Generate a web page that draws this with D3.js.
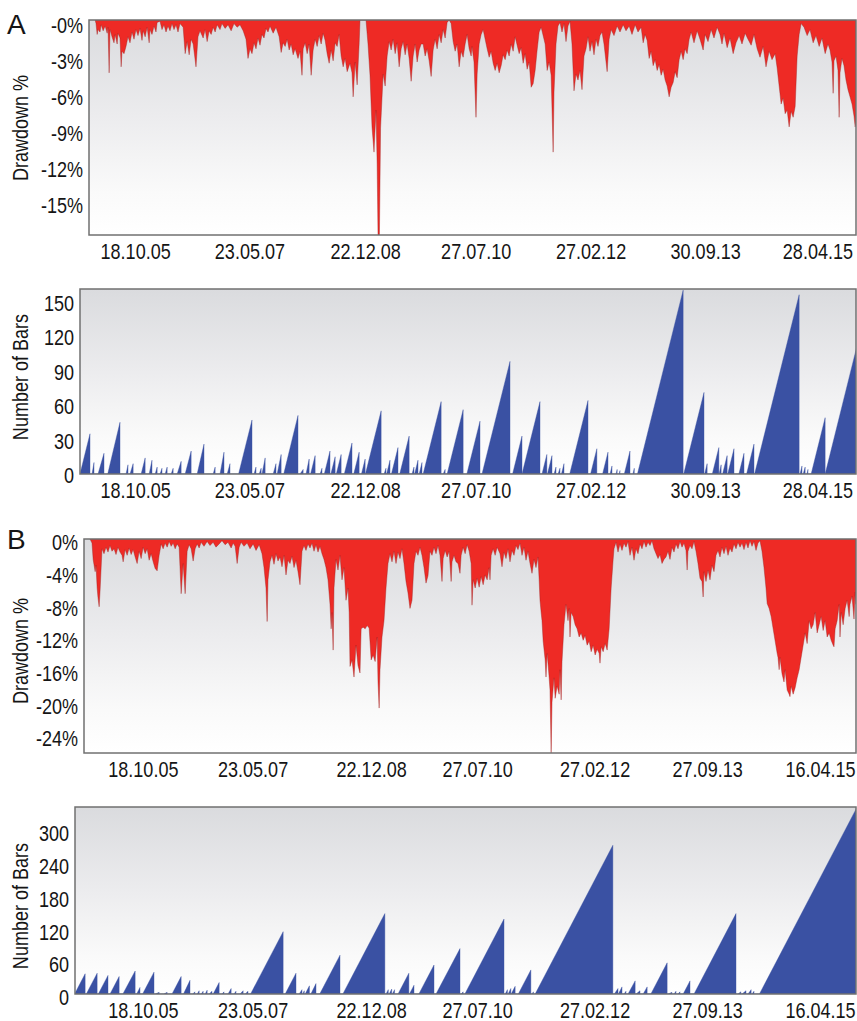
<!DOCTYPE html>
<html>
<head>
<meta charset="utf-8">
<script src="https://cdn.jsdelivr.net/npm/d3@7"></script>
<style>
  body { margin: 0; background: #fff; }
  svg text { font-family: "Liberation Sans", Arial, sans-serif; fill: #151515; }
</style>
</head>
<body>
<svg id="chart" width="857" height="1021"></svg>
<script>
// ---- x axis: bar index of the daily series, labelled with calendar dates ----
const dateTicksA  = [200, 600, 1005, 1392, 1794, 2195, 2588];
const dateLabelsA = ["18.10.05", "23.05.07", "22.12.08", "27.07.10", "27.02.12", "30.09.13", "28.04.15"];
const dateTicksB  = [227, 611, 1026, 1397, 1808, 2202, 2597];
const dateLabelsB = ["18.10.05", "23.05.07", "22.12.08", "27.07.10", "27.02.12", "27.09.13", "16.04.15"];

// ---- y axis ticks ----
const ddTicksA    = [0, -3, -6, -9, -12, -15];
const ddLabelsA   = ["-0%", "-3%", "-6%", "-9%", "-12%", "-15%"];
const nbTicksA    = [0, 30, 60, 90, 120, 150];
const ddTicksB    = [0, -4, -8, -12, -16, -20, -24];
const ddLabelsB   = ["0%", "-4%", "-8%", "-12%", "-16%", "-20%", "-24%"];
const nbTicksB    = [0, 60, 120, 180, 240, 300];

// ---- system A: drawdown % by bar ----
const drawdownA = [
[60,0],[63,-0.3],[67,-1.2],[70,-0.8],[77,-1.0],[81,-0.4],[88,-0.9],[95,-0.5],[102,-1.1],[105,-0.6],[109,-4.4],[112,-0.8],
[119,-1.4],[126,-1.9],[130,-1.2],[137,-2.0],[140,-1.1],[147,-1.5],[151,-3.9],[154,-2.6],[161,-2.8],[168,-2.2],[175,-1.4],
[182,-1.9],[189,-1.0],[196,-1.6],[203,-0.8],[210,-1.3],[217,-0.7],[224,-1.7],[228,-0.9],[235,-1.4],[242,-0.6],[249,-1.9],
[252,-0.8],[259,-1.2],[266,-0.5],[273,-1.0],[277,-0.2],[287,-0.1],[294,-0.8],[301,-0.4],[308,-1.0],[315,-0.5],[322,-0.9],
[329,-0.3],[336,-0.8],[343,-0.4],[350,-1.0],[357,-0.3],[368,-0.6],[375,-2.8],[382,-1.8],[389,-2.9],[396,-1.6],[403,-2.0],
[413,-3.9],[420,-1.4],[427,-0.9],[438,-1.5],[445,-0.8],[452,-1.8],[459,-0.9],[466,-1.2],[473,-0.6],[480,-1.0],[487,-0.4],
[497,-0.8],[504,-0.3],[515,-0.7],[525,-0.4],[536,-0.9],[546,-0.3],[557,-0.6],[567,-0.4],[578,-0.9],[588,-1.6],[595,-3.2],
[602,-2.4],[609,-2.8],[616,-1.9],[623,-2.4],[630,-1.5],[637,-2.1],[644,-1.2],[651,-1.5],[658,-0.7],[665,-1.0],[672,-0.5],
[683,-1.1],[693,-0.6],[704,-1.4],[711,-2.7],[718,-1.9],[725,-2.2],[732,-1.6],[739,-2.5],[746,-2.0],[753,-2.9],[760,-2.4],
[770,-3.2],[777,-2.6],[784,-4.6],[788,-2.4],[795,-1.9],[802,-2.8],[809,-2.0],[816,-4.6],[823,-2.5],[830,-1.6],[837,-2.2],
[844,-1.3],[851,-2.0],[858,-1.1],[865,-1.7],[872,-2.8],[879,-3.6],[886,-2.5],[893,-3.4],[900,-1.9],[907,-2.2],[914,-1.2],
[921,-3.0],[928,-3.9],[935,-3.2],[942,-4.3],[952,-3.6],[959,-4.4],[963,-6.4],[970,-3.5],[977,-5.4],[984,-2.0],[987,0],
[1008,0],[1015,-2.0],[1022,-4.6],[1029,-8.9],[1036,-11.0],[1043,-7.5],[1047,-12.0],[1050,-17.9],[1055,-17.9],[1059,-9.0],
[1068,-4.5],[1075,-5.5],[1082,-3.0],[1089,-1.8],[1096,-2.5],[1103,-1.6],[1110,-2.8],[1117,-1.9],[1124,-3.9],[1131,-2.4],
[1138,-1.8],[1145,-2.9],[1152,-2.0],[1159,-3.2],[1166,-5.1],[1173,-3.0],[1180,-2.0],[1187,-3.5],[1194,-2.5],[1201,-2.0],
[1208,-2.0],[1215,-3.0],[1222,-2.4],[1229,-3.4],[1236,-4.7],[1243,-2.5],[1250,-1.6],[1257,-2.4],[1264,-1.2],[1271,-1.9],
[1278,-0.8],[1285,-1.5],[1292,-0.2],[1299,0],[1306,-0.3],[1313,-1.8],[1320,-2.6],[1327,-2.0],[1334,-3.9],[1341,-2.6],
[1348,-3.1],[1355,-2.0],[1362,-1.2],[1369,-2.4],[1376,-3.0],[1379,-2.2],[1386,-3.5],[1393,-8.1],[1397,-4.5],[1404,-2.0],
[1411,-1.2],[1418,-0.8],[1425,-1.6],[1432,-2.4],[1439,-3.1],[1446,-2.6],[1453,-3.6],[1460,-4.2],[1467,-3.6],[1474,-4.4],
[1481,-3.8],[1488,-2.9],[1495,-3.3],[1502,-2.5],[1509,-3.0],[1516,-2.0],[1523,-2.6],[1530,-1.4],[1537,-2.1],[1544,-2.8],
[1551,-2.3],[1558,-3.6],[1565,-2.8],[1572,-4.1],[1579,-3.5],[1586,-5.6],[1593,-5.3],[1600,-4.2],[1607,-2.5],[1614,-1.0],
[1621,-0.6],[1635,-2.0],[1642,-4.2],[1649,-3.5],[1656,-4.6],[1663,-11.0],[1666,-6.0],[1673,-2.0],[1680,-0.5],[1687,-0.2],
[1694,-1.0],[1701,-0.3],[1708,-1.8],[1715,-0.5],[1722,-0.1],[1729,-2.0],[1736,-5.9],[1743,-4.5],[1750,-5.0],[1757,-4.2],
[1764,-5.8],[1771,-3.0],[1778,-2.4],[1785,-1.4],[1792,-2.6],[1799,-1.8],[1806,-2.9],[1813,-1.6],[1820,-2.2],[1827,-1.3],
[1834,-1.0],[1841,-2.0],[1852,-4.3],[1859,-1.6],[1866,-0.8],[1876,-1.3],[1887,-0.5],[1897,-1.0],[1908,-0.4],[1918,-0.9],
[1929,-0.5],[1939,-1.2],[1950,-0.4],[1960,-1.0],[1971,-0.6],[1978,-1.9],[1985,-1.2],[1992,-1.7],[1999,-3.2],[2006,-2.6],
[2013,-3.8],[2020,-3.3],[2027,-4.2],[2034,-3.7],[2041,-4.6],[2048,-4.1],[2055,-5.0],[2062,-5.5],[2069,-6.4],[2076,-5.6],
[2083,-5.2],[2090,-4.3],[2097,-4.8],[2104,-3.3],[2111,-2.6],[2118,-3.3],[2125,-2.4],[2132,-2.8],[2139,-1.6],[2146,-1.0],
[2156,-1.9],[2167,-0.9],[2177,-1.6],[2188,-2.5],[2195,-1.2],[2205,-1.8],[2216,-0.8],[2226,-1.5],[2237,-0.6],[2247,-1.2],
[2254,-2.0],[2261,-1.1],[2272,-2.3],[2282,-1.5],[2293,-2.8],[2303,-1.9],[2314,-1.3],[2324,-2.0],[2335,-1.1],[2345,-1.6],
[2356,-2.1],[2366,-1.2],[2377,-2.4],[2387,-3.1],[2398,-2.2],[2408,-3.9],[2419,-2.6],[2429,-3.3],[2440,-2.8],[2447,-4.0],
[2454,-5.5],[2461,-7.0],[2468,-6.5],[2475,-7.8],[2482,-7.5],[2489,-8.9],[2496,-7.6],[2503,-8.1],[2510,-7.2],[2517,-3.0],
[2524,-1.2],[2531,-0.3],[2541,-0.6],[2552,-1.3],[2562,-0.8],[2573,-1.9],[2583,-1.3],[2594,-2.2],[2604,-1.5],[2615,-2.8],
[2625,-2.0],[2632,-2.5],[2639,-3.5],[2643,-6.1],[2646,-3.4],[2653,-3.0],[2660,-4.2],[2664,-8.1],[2667,-4.4],[2674,-3.2],
[2681,-3.8],[2688,-5.0],[2695,-5.8],[2702,-6.4],[2709,-7.0],[2716,-8.0],[2720,-8.9],[2723,-8.5]
];

// ---- system A: bars since last equity high, one run per row [startBar, endBar, bars] ----
const barRunsA = [
[7,42,35],[49,56,10],[70,91,18],[104,147,45],[168,175,8],[182,193,9],[221,235,14],[249,259,12],[270,277,6],[287,294,5],
[305,312,6],[326,333,5],[347,361,11],[375,396,20],[417,441,26],[473,480,6],[497,511,19],[522,532,9],[562,609,47],
[616,623,6],[634,641,5],[644,655,14],[683,693,9],[697,711,17],[720,770,51],[777,788,4],[798,809,13],[814,830,16],
[847,854,5],[862,882,20],[885,900,15],[904,921,17],[932,959,27],[965,984,19],[992,1005,13],[1006,1061,55],[1071,1078,5],
[1080,1092,12],[1097,1120,23],[1126,1159,33],[1169,1176,6],[1178,1190,12],[1194,1204,10],[1208,1271,63],[1278,1285,4],
[1292,1348,56],[1361,1407,46],[1414,1512,98],[1521,1554,33],[1554,1617,63],[1624,1641,17],[1643,1659,16],[1666,1673,6],
[1680,1687,5],[1692,1701,9],[1721,1785,64],[1794,1816,22],[1836,1855,19],[1862,1869,7],[1883,1887,4],[1894,1897,3],
[1912,1932,20],[1942,1947,5],[1958,2118,160],[2120,2191,71],[2193,2202,9],[2220,2243,23],[2244,2251,8],[2256,2272,16],
[2274,2296,22],[2313,2331,18],[2340,2366,26],[2368,2524,156],[2527,2534,7],[2538,2545,6],[2551,2555,4],[2566,2615,49],
[2615,2727,112]
];

// ---- system B: drawdown % by bar ----
const drawdownB = [
[42,0],[49,-0.5],[53,-2.5],[60,-4.0],[63,-3.2],[67,-6.0],[70,-7.2],[74,-8.3],[77,-6.5],[81,-3.5],[84,-1.2],[91,-1.8],
[98,-1.0],[105,-1.6],[112,-0.8],[119,-1.5],[126,-1.2],[133,-1.9],[140,-1.0],[147,-1.6],[154,-2.0],[158,-2.8],[165,-1.3],
[172,-2.0],[179,-1.1],[186,-1.9],[193,-1.3],[200,-2.2],[207,-3.0],[214,-1.5],[221,-2.4],[228,-1.0],[235,-1.8],[242,-1.2],
[249,-2.6],[256,-1.8],[263,-2.8],[270,-3.6],[277,-3.9],[284,-2.0],[291,-0.6],[298,-1.2],[305,-0.5],[312,-1.0],[319,-0.3],
[326,-0.9],[333,-0.5],[340,-1.2],[347,-0.6],[354,-1.0],[361,-6.7],[368,-3.0],[375,-6.7],[382,-1.5],[389,-0.7],[396,-1.2],
[403,-2.7],[410,-1.2],[417,-0.6],[424,-1.1],[431,-0.4],[441,-0.9],[452,-0.3],[462,-0.8],[473,-0.4],[483,-1.0],[494,-0.6],
[504,-0.2],[515,-0.7],[525,-0.4],[536,-1.1],[543,-0.5],[550,-0.9],[557,-3.0],[564,-1.0],[571,-0.4],[581,-0.9],[592,-0.5],
[602,-1.2],[613,-0.6],[623,-1.4],[634,-0.7],[644,-1.8],[651,-3.5],[658,-6.0],[662,-10.1],[665,-5.0],[672,-2.8],[679,-2.0],
[686,-3.1],[693,-1.8],[700,-2.7],[707,-2.2],[714,-3.4],[721,-2.0],[728,-4.4],[735,-2.6],[742,-3.0],[749,-2.1],[756,-3.5],
[763,-2.6],[770,-4.0],[777,-5.6],[784,-1.5],[791,-0.8],[798,-1.4],[805,-0.6],[812,-1.1],[819,-0.5],[826,-1.5],[833,-0.7],
[840,-1.6],[847,-0.9],[854,-1.8],[861,-2.5],[868,-3.5],[875,-5.0],[882,-8.0],[886,-11.0],[889,-9.0],[893,-13.6],[896,-6.0],
[903,-2.5],[910,-3.8],[917,-2.0],[924,-5.0],[931,-3.5],[938,-7.5],[945,-6.0],[949,-9.0],[952,-15.6],[959,-14.8],[966,-16.9],
[973,-13.0],[980,-15.5],[987,-16.4],[991,-11.0],[998,-10.8],[1005,-11.0],[1012,-10.6],[1019,-10.9],[1026,-14.8],[1033,-14.2],
[1040,-15.0],[1047,-12.0],[1050,-17.5],[1054,-20.7],[1057,-16.0],[1064,-12.0],[1071,-10.0],[1078,-6.0],[1085,-3.0],
[1092,-1.8],[1099,-2.8],[1106,-1.5],[1113,-3.0],[1120,-1.6],[1127,-2.4],[1134,-1.2],[1141,-3.0],[1148,-5.2],[1155,-6.6],
[1162,-8.5],[1169,-7.5],[1176,-3.0],[1183,-1.5],[1190,-2.0],[1197,-1.0],[1204,-2.0],[1211,-3.5],[1218,-5.4],[1225,-4.5],
[1232,-1.5],[1239,-2.0],[1246,-1.0],[1253,-1.8],[1260,-0.8],[1267,-2.0],[1274,-5.2],[1278,-2.4],[1285,-1.4],[1292,-2.2],
[1299,-1.5],[1306,-5.2],[1309,-2.8],[1316,-2.0],[1323,-2.8],[1330,-3.0],[1337,-4.2],[1341,-2.0],[1348,-1.0],[1355,-1.8],
[1362,-0.7],[1369,-1.5],[1376,-3.0],[1379,-8.1],[1383,-5.0],[1390,-6.0],[1397,-4.8],[1404,-5.9],[1411,-4.6],[1418,-5.6],
[1425,-4.4],[1432,-5.0],[1439,-3.5],[1442,-5.0],[1446,-2.0],[1453,-1.2],[1460,-2.0],[1467,-1.0],[1477,-1.8],[1484,-3.4],
[1491,-1.6],[1498,-2.4],[1505,-1.2],[1512,-2.8],[1519,-1.4],[1526,-2.0],[1533,-0.8],[1540,-1.3],[1547,-0.5],[1554,-2.0],
[1561,-1.0],[1568,-2.6],[1575,-1.5],[1582,-3.0],[1589,-4.2],[1596,-2.5],[1603,-3.5],[1610,-2.2],[1614,-5.0],[1617,-7.5],
[1621,-9.0],[1624,-10.0],[1628,-12.5],[1635,-14.8],[1638,-16.9],[1642,-14.0],[1645,-15.2],[1649,-17.0],[1652,-18.5],
[1656,-26.2],[1659,-20.0],[1666,-17.0],[1670,-19.5],[1677,-18.0],[1684,-19.0],[1687,-16.0],[1691,-19.7],[1694,-15.0],
[1698,-12.5],[1701,-10.5],[1708,-8.0],[1715,-10.0],[1719,-8.5],[1722,-12.0],[1726,-9.0],[1733,-9.5],[1740,-10.5],
[1747,-11.0],[1754,-12.0],[1761,-11.5],[1768,-12.4],[1775,-11.8],[1782,-13.0],[1789,-12.5],[1796,-13.8],[1803,-13.0],
[1810,-14.2],[1817,-13.5],[1824,-14.0],[1827,-15.2],[1831,-13.2],[1838,-13.8],[1845,-12.8],[1852,-13.6],[1859,-11.0],
[1866,-6.0],[1873,-2.5],[1876,-1.2],[1883,-0.4],[1890,-1.6],[1897,-0.6],[1904,-1.4],[1911,-0.5],[1918,-1.0],[1925,-0.3],
[1932,-2.0],[1939,-1.0],[1946,-2.6],[1953,-1.2],[1960,-1.8],[1967,-0.6],[1974,-1.2],[1981,-0.3],[1988,-1.0],[1995,-0.4],
[2002,-0.8],[2009,-0.2],[2016,-1.2],[2023,-1.8],[2030,-2.4],[2037,-1.9],[2044,-3.0],[2051,-2.5],[2058,-2.2],[2065,-1.5],
[2072,-2.5],[2079,-1.0],[2086,-1.6],[2093,-0.6],[2100,-1.2],[2107,-0.3],[2114,-1.0],[2121,-0.5],[2128,-1.4],[2132,-3.8],
[2135,-1.5],[2142,-0.8],[2149,-1.2],[2156,-0.3],[2163,-1.5],[2170,-3.0],[2177,-4.8],[2184,-5.2],[2188,-7.1],[2191,-4.0],
[2198,-5.2],[2205,-3.8],[2212,-5.0],[2219,-3.2],[2226,-4.0],[2233,-2.0],[2240,-1.4],[2247,-2.2],[2254,-1.0],[2261,-1.8],
[2268,-0.9],[2275,-2.0],[2282,-1.1],[2289,-1.6],[2296,-0.6],[2303,-1.2],[2310,-0.4],[2317,-1.0],[2324,-0.5],[2331,-1.3],
[2338,-0.4],[2345,-1.1],[2352,-0.2],[2359,-0.9],[2366,-0.3],[2373,-1.4],[2380,-0.5],[2387,-0.2],[2394,-1.5],[2401,-3.5],
[2408,-6.0],[2412,-7.9],[2419,-8.5],[2426,-9.5],[2433,-11.0],[2440,-12.5],[2447,-14.0],[2450,-14.5],[2454,-16.0],
[2457,-14.5],[2464,-16.5],[2471,-17.5],[2475,-16.0],[2482,-18.5],[2489,-19.0],[2492,-19.3],[2496,-18.0],[2503,-19.0],
[2510,-18.2],[2517,-17.0],[2524,-16.0],[2531,-14.5],[2538,-13.0],[2545,-11.5],[2552,-12.8],[2559,-10.0],[2566,-11.0],
[2573,-10.5],[2580,-9.0],[2587,-11.5],[2594,-10.5],[2601,-9.5],[2608,-11.2],[2615,-10.0],[2622,-12.0],[2629,-11.5],
[2636,-12.4],[2643,-13.0],[2646,-13.2],[2650,-11.0],[2657,-10.0],[2664,-8.0],[2667,-12.0],[2671,-9.0],[2678,-10.5],
[2685,-8.5],[2692,-7.5],[2699,-9.5],[2702,-8.0],[2709,-7.0],[2716,-9.8],[2720,-6.5],[2723,-8.0]
];

// ---- system B: bars since last equity high [startBar, endBar, bars] ----
const barRunsB = [
[-12,25,37],[29,67,38],[71,105,34],[112,144,32],[157,200,42],[205,217,12],[226,266,40],[270,284,3],[300,312,3],
[329,361,32],[369,392,25],[402,409,4],[417,424,6],[431,438,5],[445,452,7],[459,469,5],[473,494,21],[504,511,4],
[525,536,10],[546,553,5],[567,578,6],[585,595,5],[604,718,114],[725,763,38],[774,784,8],[786,792,6],[795,810,15],
[815,833,19],[846,917,71],[927,1074,147],[1078,1086,8],[1089,1098,9],[1100,1108,8],[1120,1158,38],[1160,1176,16],
[1193,1246,53],[1253,1337,83],[1341,1348,4],[1354,1491,137],[1495,1503,8],[1505,1515,10],[1516,1530,14],[1541,1585,44],
[1589,1594,4],[1600,1872,272],[1877,1890,10],[1891,1904,13],[1911,1918,5],[1925,1950,24],[1953,1967,6],[1978,1992,13],
[2005,2062,57],[2065,2079,3],[2086,2093,5],[2100,2107,4],[2118,2142,24],[2156,2303,147],[2310,2320,4],[2324,2338,6],
[2345,2356,8],[2359,2366,5],[2385,2725,340]
];

// ---- layout ----
const RED = "#ee2a25", RED_EDGE = "#9c1d1d", BLUE = "#3a51a3";
const FONT_SIZE = 22;
const NARROW = 0.82;          // horizontal squeeze giving a condensed face

const svg = d3.select("#chart");
const defs = svg.append("defs");

const bg = defs.append("linearGradient").attr("id", "panelBg")
  .attr("x1", 0).attr("y1", 0).attr("x2", 0).attr("y2", 1);
bg.append("stop").attr("offset", "0%").attr("stop-color", "#dadbde");
bg.append("stop").attr("offset", "45%").attr("stop-color", "#ececee");
bg.append("stop").attr("offset", "80%").attr("stop-color", "#fafafa");
bg.append("stop").attr("offset", "100%").attr("stop-color", "#ffffff");

// shared bar-index scale for all four panels
const x = d3.scaleLinear().domain([0, 2800]).range([78, 878]);

function runsToPoints(runs) {
  const pts = [];
  runs.forEach(([s, e, v]) => { pts.push([s, 0], [e, v], [e, 0]); });
  return pts;
}

const panels = [
  { id: "ddA", kind: "dd", left: 89, top: 20, bottom: 235, right: 856, yDomain: [-17.9, 0],
    yTicks: ddTicksA, yLabels: ddLabelsA, labelShift: 5, title: "Drawdown %", titleY: 128,
    series: drawdownA, xTicks: dateTicksA, xLabels: dateLabelsA, letter: "A", letterY: 34 },
  { id: "nbA", kind: "nb", left: 80, top: 289, bottom: 474, right: 856, yDomain: [0, 161],
    yTicks: nbTicksA, yLabels: nbTicksA.map(String), labelShift: 1, title: "Number of Bars", titleY: 377,
    series: runsToPoints(barRunsA), xTicks: dateTicksA, xLabels: dateLabelsA },
  { id: "ddB", kind: "dd", left: 84, top: 539, bottom: 753, right: 856, yDomain: [-26.2, 0],
    yTicks: ddTicksB, yLabels: ddLabelsB, labelShift: 3, title: "Drawdown %", titleY: 651,
    series: drawdownB, xTicks: dateTicksB, xLabels: dateLabelsB, letter: "B", letterY: 549 },
  { id: "nbB", kind: "nb", left: 75, top: 807, bottom: 994, right: 856, yDomain: [0, 342],
    yTicks: nbTicksB, yLabels: nbTicksB.map(String), labelShift: 3, title: "Number of Bars", titleY: 906,
    series: runsToPoints(barRunsB), xTicks: dateTicksB, xLabels: dateLabelsB }
];

panels.forEach(p => {
  const y = d3.scaleLinear().domain(p.yDomain).range([p.bottom, p.top]);
  const w = p.right - p.left, h = p.bottom - p.top;

  svg.append("rect").attr("x", p.left).attr("y", p.top).attr("width", w).attr("height", h)
    .attr("fill", "url(#panelBg)");

  defs.append("clipPath").attr("id", "clip-" + p.id)
    .append("rect").attr("x", p.left).attr("y", p.top).attr("width", w).attr("height", h);

  const area = d3.area()
    .x(d => x(d[0]))
    .y0(y(0))
    .y1(d => y(d[1]));

  const path = svg.append("path")
    .datum(p.series)
    .attr("clip-path", `url(#clip-${p.id})`)
    .attr("d", area);

  if (p.kind === "dd") {
    path.attr("fill", RED).attr("stroke", RED_EDGE).attr("stroke-width", 0.5).attr("stroke-opacity", 0.8);
  } else {
    path.attr("fill", BLUE).attr("stroke", BLUE).attr("stroke-width", 0.4);
  }

  // frame
  svg.append("rect").attr("x", p.left).attr("y", p.top).attr("width", w).attr("height", h)
    .attr("fill", "none").attr("stroke", "#707070").attr("stroke-width", 1.5);

  // y axis labels (condensed)
  const gy = svg.append("g").attr("transform", `translate(${p.left},0)`)
    .call(d3.axisLeft(y).tickValues(p.yTicks).tickFormat((d, i) => p.yLabels[i]).tickSize(0));
  gy.select(".domain").remove();
  gy.attr("font-size", FONT_SIZE).attr("font-family", null);
  gy.selectAll("text")
    .attr("x", -6 / NARROW)
    .attr("y", p.labelShift)
    .attr("dy", "0.35em")
    .attr("transform", `scale(${NARROW},1)`);

  // x axis labels (condensed)
  const gx = svg.append("g").attr("transform", `translate(0,${p.bottom})`)
    .call(d3.axisBottom(x).tickValues(p.xTicks).tickFormat((d, i) => p.xLabels[i]).tickSize(0).tickPadding(8));
  gx.select(".domain").remove();
  gx.attr("font-size", FONT_SIZE).attr("font-family", null);
  gx.selectAll("text").attr("transform", `scale(${NARROW},1)`);

  // axis title
  svg.append("text")
    .attr("transform", `translate(28,${p.titleY}) rotate(-90) scale(${NARROW},1)`)
    .attr("text-anchor", "middle")
    .attr("font-size", FONT_SIZE)
    .text(p.title);

  if (p.letter) {
    svg.append("text")
      .attr("x", 7).attr("y", p.letterY)
      .attr("font-size", 28)
      .text(p.letter);
  }
});
</script>
</body>
</html>
